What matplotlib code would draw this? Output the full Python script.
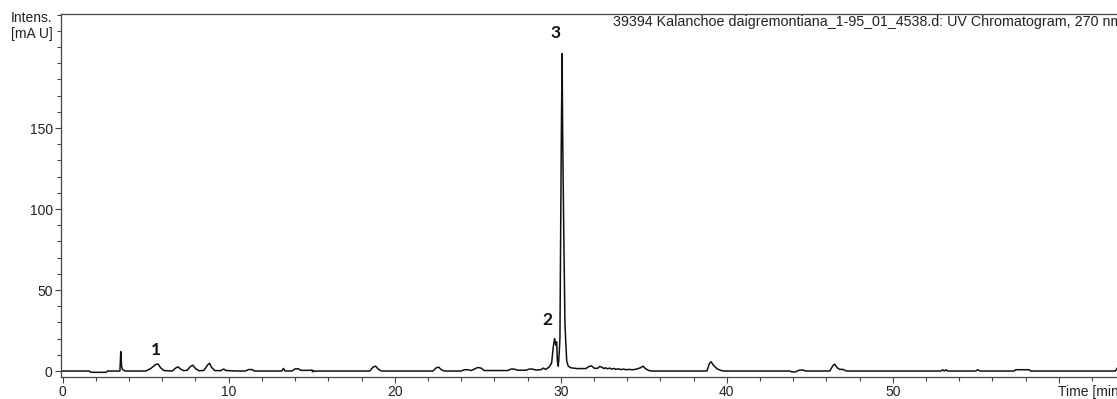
import matplotlib
matplotlib.use("Agg")
import matplotlib.pyplot as plt
import numpy as np

# UV chromatogram, 270 nm (vertices)
time_min = [0.0, 1.6, 1.7, 2.6, 2.7, 3.45, 3.5, 3.55, 3.6, 3.7, 3.8, 5.0, 5.3, 5.6, 5.75, 5.9, 6.1,
            6.6, 6.8, 6.95, 7.1, 7.3, 7.5, 7.7, 7.85, 8.0, 8.2, 8.5, 8.75, 8.85, 8.95, 9.15, 9.5,
            9.7, 9.85, 10.5, 11.0, 11.2, 11.4, 11.55, 13.2, 13.3, 13.4, 13.8, 14.0, 14.2, 14.35,
            14.8, 15.0, 15.05, 15.1, 15.2, 15.3, 18.5, 18.7, 18.85, 19.0, 19.2, 22.3, 22.5, 22.65,
            22.8, 23.0, 24.0, 24.2, 24.4, 24.6, 24.8, 25.0, 25.2, 25.4, 26.8, 27.0, 27.2, 27.4,
            27.9, 28.1, 28.3, 28.5, 28.8, 28.95, 29.1, 29.3, 29.45, 29.55, 29.63, 29.7, 29.75,
            29.8, 29.85, 29.9, 29.95, 30.0, 30.03, 30.08, 30.12, 30.17, 30.25, 30.3, 30.36, 30.45,
            30.6, 31.0, 31.5, 31.7, 31.85, 32.0, 32.2, 32.35, 32.5, 32.6, 32.7, 32.8, 32.95, 33.05,
            33.2, 33.3, 33.5, 33.6, 33.8, 33.9, 34.1, 34.3, 34.5, 34.8, 34.95, 35.1, 35.3, 35.5,
            38.8, 38.95, 39.05, 39.2, 39.4, 39.6, 39.8, 43.8, 43.9, 44.1, 44.25, 44.4, 44.6, 44.75,
            46.2, 46.4, 46.5, 46.65, 46.8, 47.0, 47.2, 52.9, 53.0, 53.1, 53.2, 53.3, 55.0, 55.1,
            55.25, 57.3, 57.4, 58.2, 58.3, 63.4, 63.6]
intens_mau = [0, 0, -0.8, -0.8, 0, 0, 12, 3, 1, 0.3, 0, 0, 1.5, 4, 4.3, 2, 0.3,
              0, 1.8, 2.6, 1.2, 0.2, 0.5, 2.8, 3.6, 1.5, 0.2, 0.3, 4, 4.8, 2.5, 0.3, 0.2,
              1.2, 0.3, 0, 0, 0.9, 0.9, 0, 0, 1.6, 0, 0, 1.3, 1.4, 0.4,
              0.4, 0.6, -0.5, 0.4, -0.3, 0, 0, 2.5, 3, 1.2, 0, 0, 2.0, 2.4,
              0.8, 0, 0, 0.8, 0.8, 0.3, 1.2, 2.2, 1.8, 0.3, 0.3, 1.2, 1.2, 0.5,
              0.5, 1.2, 1.2, 0.6, 0.8, 1.8, 1.0, 2.5, 5, 15, 20, 16, 18,
              6, 3, 10, 20, 100, 140, 196, 140, 95, 30, 18, 6, 3,
              2, 1.5, 1.5, 2.8, 3.2, 1.8, 1.6, 2.8, 2.2, 1.5, 2.0, 1.4, 1.8, 1.2,
              1.6, 1.1, 1.3, 0.9, 1.2, 0.8, 1.0, 0.8, 1.0, 2.0, 3.0, 1.5, 0.3, 0,
              0, 4.5, 5.8, 3.5, 1.5, 0.5, 0, 0, -0.5, -0.6, 0, 0.6, 0.6, 0,
              0, 3.5, 4.2, 2.0, 1.0, 1.0, 0, 0, 0.8, 0, 0.8, 0, 0, 0.8,
              0, 0, 0.8, 0.8, 0, 0, 3]

peak_labels = ["1", "2", "3"]
peak_label_x = [5.6, 29.2, 29.7]
peak_label_y = [13, 31.5, 208.5]

x_major = [0, 10, 20, 30, 40, 50, 60]
x_major_labels = ["0", "10", "20", "30", "40", "50", ""]
y_major = [0, 50, 100, 150]

plt.rcParams['font.family'] = ['Liberation Sans', 'DejaVu Sans']
txt = '#222222'
axc = '#444444'

fig = plt.figure(figsize=(11.17, 3.99), dpi=100)
ax = fig.add_axes([0.0546, 0.0551, 0.9454, 0.9098])

ax.plot(time_min, intens_mau, color='#111111', lw=1.1)

ax.set_xlim(-0.1, 63.5)
ax.set_ylim(-3.7, 220.4)

ax.set_xticks(x_major)
ax.set_xticklabels(x_major_labels)
ax.set_xticks(np.arange(0, 64, 2), minor=True)
ax.set_yticks(y_major)
ax.set_yticks(np.arange(0, 221, 10), minor=True)

ax.tick_params(axis='both', which='major', length=4.5, width=0.8, color=axc,
               labelsize=10, labelcolor=txt, pad=1.5)
ax.tick_params(axis='both', which='minor', length=3, width=0.8, color=axc)

for side in ['left', 'bottom', 'top']:
    ax.spines[side].set_color(axc)
    ax.spines[side].set_linewidth(0.9)
ax.spines['right'].set_visible(False)

for lab, lx, ly in zip(peak_labels, peak_label_x, peak_label_y):
    ax.text(lx, ly, lab, ha='center', va='center', fontsize=12.5,
            fontweight='bold', family=['Lato', 'DejaVu Sans'], color='#111111')

fig.text(0.047, 0.955, "Intens.", ha='right', va='center', fontsize=10, color=txt)
fig.text(0.047, 0.915, "[mA U]", ha='right', va='center', fontsize=10, color=txt)
fig.text(0.549, 0.944,
         "39394 Kalanchoe daigremontiana_1-95_01_4538.d: UV Chromatogram, 270 nm",
         ha='left', va='center', fontsize=10.3, color=txt)
ax.text(59.95, -0.041, "Time [min]", transform=ax.get_xaxis_transform(),
        ha='left', va='center', fontsize=10, color=txt)

fig.savefig("out.png", dpi=100)
